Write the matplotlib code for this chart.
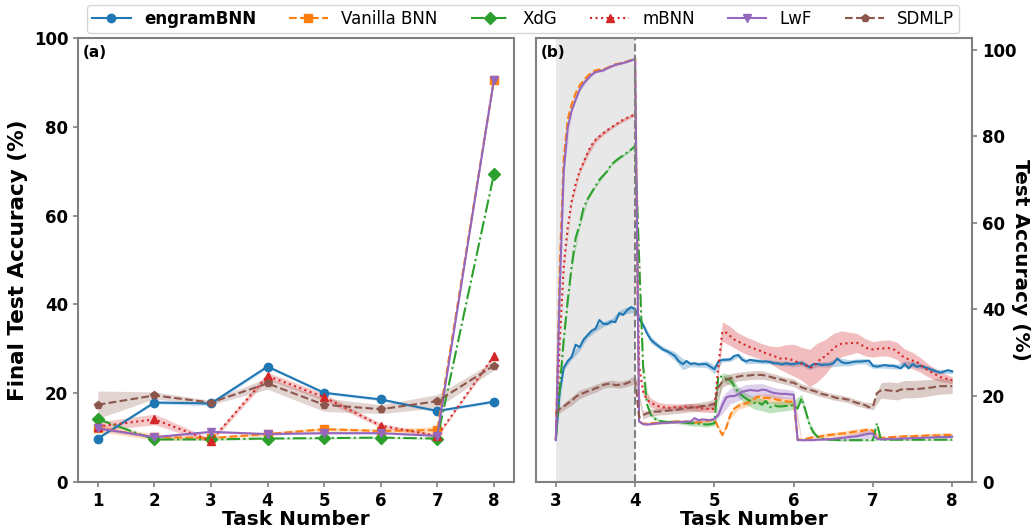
import numpy as np
import matplotlib
matplotlib.use("Agg")
import matplotlib.pyplot as plt

# ---------------- Panel (a) data ----------------
tasks = [1, 2, 3, 4, 5, 6, 7, 8]
engram_final = [9.8, 17.9, 17.7, 26.0, 20.1, 18.6, 16.0, 18.1]
vanilla_final = [12.2, 10.1, 9.9, 10.8, 11.9, 11.5, 11.7, 90.5]
xdg_final = [14.2, 9.6, 9.6, 9.8, 9.9, 10.0, 9.8, 69.3]
mbnn_final = [12.5, 14.1, 9.3, 23.9, 19.1, 12.7, 10.4, 28.4]
lwf_final = [12.1, 10.1, 11.3, 10.8, 11.0, 11.0, 10.4, 90.5]
sdmlp_final = [17.4, 19.5, 17.9, 22.2, 17.4, 16.4, 18.2, 26.2]

engram_final_std = [0.3, 0.3, 0.5, 0.3, 0.3, 0.3, 0.3, 0.3]
vanilla_final_std = [0.8, 0.7, 0.3, 0.4, 0.4, 0.4, 0.8, 0.3]
xdg_final_std = [0.3, 0.2, 0.2, 0.2, 0.2, 0.2, 0.2, 0.3]
mbnn_final_std = [1.0, 1.2, 0.5, 0.8, 0.8, 0.5, 0.3, 0.5]
lwf_final_std = [0.4, 0.3, 0.3, 0.2, 0.2, 0.2, 0.2, 0.3]
sdmlp_final_std = [3.1, 0.8, 0.5, 1.3, 1.5, 1.0, 1.5, 1.0]

# ---------------- Panel (b) data (task 3 accuracy over training, step 0.05) ----------------
t_b = np.linspace(3, 8, 101)

engram_t3 = [
    10.0, 21.0, 26.5, 28.0, 29.0, 31.8, 31.2, 33.0, 34.0, 35.0, 35.5, 37.5, 36.6, 36.6, 37.2, 37.0, 39.1, 38.7, 39.8, 40.5, 40.0,
    37.8, 36.4, 34.4, 32.9, 32.1, 31.4, 30.7, 30.3, 29.8, 29.2, 28.0, 27.3, 28.0, 27.3, 27.5, 27.2, 27.3, 27.3, 26.7, 26.1,
    27.9, 28.3, 28.3, 28.4, 29.2, 29.4, 28.3, 27.9, 28.3, 28.1, 28.0, 27.9, 27.9, 27.8, 27.5, 27.5, 27.2, 27.5, 27.3, 27.3,
    27.5, 27.6, 27.1, 26.6, 27.3, 27.3, 27.1, 27.2, 27.2, 27.5, 28.6, 27.8, 27.5, 27.6, 27.8, 27.9, 27.9, 28.0, 28.1, 26.9,
    26.7, 26.9, 27.1, 26.9, 26.9, 26.7, 26.3, 27.3, 26.3, 27.3, 26.7, 26.9, 26.6, 26.3, 25.9, 25.6, 25.3, 25.6, 25.9, 25.6]

vanilla_t3 = [
    10.0, 50.0, 75.0, 84.0, 87.5, 90.0, 91.8, 93.0, 94.0, 94.8, 95.3, 95.5, 95.6, 95.9, 96.3, 96.7, 96.9, 97.1, 97.4, 97.7, 98.1,
    14.0, 13.5, 13.5, 13.6, 13.7, 13.7, 13.8, 13.8, 13.9, 14.0, 14.0, 14.0, 14.0, 13.9, 13.8, 13.8, 13.9, 14.1, 14.3, 14.6,
    12.5, 10.9, 12.6, 15.5, 17.0, 17.6, 18.0, 18.2, 18.7, 19.2, 19.8, 19.4, 19.5, 19.4, 19.3, 19.0, 18.9, 18.7, 18.6, 18.6,
    9.8, 9.8, 10.0, 10.2, 10.4, 10.5, 10.6, 10.8, 10.9, 11.0, 11.1, 11.2, 11.3, 11.4, 11.6, 11.7, 11.8, 12.0, 12.2, 11.9,
    10.2, 10.2, 10.3, 10.4, 10.4, 10.5, 10.5, 10.6, 10.6, 10.6, 10.7, 10.7, 10.7, 10.8, 10.8, 10.8, 10.8, 10.9, 10.9, 10.9]

xdg_t3 = [
    9.8, 22.0, 33.0, 42.0, 50.0, 56.5, 59.5, 63.5, 65.5, 67.0, 68.5, 70.0, 71.0, 72.0, 73.5, 74.3, 75.0, 75.6, 76.3, 77.0, 77.8,
    52.0, 27.0, 18.0, 15.5, 14.6, 14.2, 14.0, 13.9, 13.9, 14.0, 13.9, 13.8, 13.7, 13.6, 13.6, 13.5, 13.4, 13.3, 13.4, 13.6,
    24.6, 24.3, 23.9, 23.6, 22.3, 20.8, 20.0, 19.3, 18.8, 18.3, 18.5, 17.9, 18.8, 17.3, 17.8, 17.5, 17.5, 17.6, 17.7, 17.8,
    17.0, 19.4, 16.5, 13.2, 11.4, 10.5, 10.1, 9.9, 9.8, 9.8, 9.7, 9.7, 9.7, 9.7, 9.7, 9.7, 9.7, 9.7, 9.7, 9.7,
    13.6, 9.9, 9.8, 9.8, 9.8, 9.8, 9.8, 9.8, 9.8, 9.8, 9.8, 9.8, 9.8, 9.8, 9.8, 9.8, 9.8, 9.8, 9.8, 9.8]

mbnn_t3 = [
    10.0, 33.0, 50.0, 59.0, 65.0, 69.0, 72.0, 74.0, 76.2, 78.0, 79.2, 80.0, 80.8, 81.5, 82.1, 82.7, 83.3, 83.9, 84.3, 84.7, 85.2,
    27.0, 21.0, 19.0, 18.3, 17.9, 17.5, 17.3, 17.3, 17.1, 17.3, 17.2, 17.3, 17.5, 17.4, 17.3, 17.2, 17.1, 17.0, 16.8, 17.0,
    27.0, 34.8, 34.6, 33.8, 33.0, 32.5, 32.1, 31.6, 31.2, 30.9, 30.6, 30.2, 29.8, 29.5, 29.2, 28.8, 28.5, 28.6, 28.4, 28.2,
    27.7, 27.4, 27.1, 26.4, 26.8, 27.7, 28.8, 29.0, 30.0, 30.9, 31.6, 32.0, 32.1, 32.1, 32.2, 32.2, 31.8, 31.2, 30.8, 30.7,
    30.8, 31.0, 30.9, 31.0, 30.8, 30.4, 29.4, 28.8, 28.4, 28.1, 27.9, 27.1, 26.4, 25.8, 25.3, 24.8, 24.3, 24.1, 23.8, 23.6]

lwf_t3 = [
    9.7, 45.0, 72.0, 82.0, 86.0, 88.5, 90.8, 92.3, 93.3, 94.3, 94.9, 95.1, 95.3, 95.8, 96.2, 96.6, 96.8, 97.0, 97.3, 97.6, 98.0,
    14.0, 13.4, 13.3, 13.4, 13.5, 13.6, 13.7, 13.7, 13.8, 13.8, 13.9, 13.9, 14.0, 14.0, 14.8, 14.3, 14.5, 14.4, 14.3, 14.6,
    15.5, 17.8, 19.6, 19.9, 19.9, 20.3, 20.9, 21.1, 21.3, 21.2, 21.1, 21.4, 21.3, 20.9, 20.6, 20.5, 20.4, 20.4, 20.3, 20.2,
    9.7, 9.7, 9.7, 9.7, 9.7, 9.8, 9.8, 9.9, 9.9, 10.0, 10.1, 10.2, 10.3, 10.4, 10.5, 10.6, 10.8, 11.0, 11.2, 11.2,
    10.0, 9.9, 9.9, 10.0, 10.0, 10.0, 10.1, 10.1, 10.1, 10.2, 10.2, 10.2, 10.3, 10.3, 10.3, 10.4, 10.4, 10.4, 10.4, 10.5]

sdmlp_t3 = [
    15.8, 17.0, 17.5, 18.2, 18.8, 19.7, 20.3, 20.6, 21.0, 21.3, 21.7, 22.0, 22.5, 22.7, 22.8, 22.4, 22.5, 22.6, 22.9, 23.3, 23.7,
    15.0, 15.5, 15.9, 16.1, 16.3, 16.3, 16.4, 16.5, 16.6, 16.7, 16.8, 17.0, 17.1, 17.2, 17.3, 17.4, 17.6, 17.7, 17.9, 18.1,
    22.0, 23.2, 23.7, 24.0, 24.3, 24.4, 24.6, 24.6, 24.7, 24.8, 24.8, 24.8, 24.6, 24.4, 24.1, 23.9, 23.7, 23.4, 23.1, 23.0,
    22.5, 21.9, 21.6, 21.4, 21.1, 20.8, 20.4, 20.2, 20.0, 19.7, 19.4, 19.4, 19.2, 19.0, 18.6, 18.3, 18.1, 17.8, 17.3, 17.5,
    20.6, 21.2, 21.3, 21.2, 21.1, 21.0, 21.4, 21.5, 21.5, 21.5, 21.5, 21.6, 21.7, 21.8, 21.9, 22.1, 22.2, 22.2, 22.2, 22.2]

# std bands on a 0.1 grid (every second point of t_b)
engram_t3_std = [0.3, 0.6, 0.6, 0.8, 0.6, 0.7, 0.6, 0.6, 0.6, 0.8, 0.7,
                 0.5, 0.8, 0.6, 0.6, 1.0, 1.3, 0.6, 0.6, 0.8, 1.0,
                 0.5, 0.5, 0.5, 0.6, 0.6, 0.5, 0.5, 0.5, 0.6, 0.6,
                 0.7, 0.6, 0.6, 0.6, 0.8, 0.9, 0.7, 0.6, 0.6, 0.6,
                 0.5, 0.6, 0.6, 0.7, 0.7, 0.6, 0.5, 0.5, 0.5, 0.5]
vanilla_t3_std = [0.3, 0.4, 0.3, 0.3, 0.2, 0.2, 0.2, 0.2, 0.2, 0.2, 0.2,
                  0.3, 0.3, 0.3, 0.3, 0.3, 0.3, 0.3, 0.3, 0.3, 0.4,
                  0.5, 0.8, 0.8, 0.8, 0.9, 1.0, 1.0, 1.0, 0.9, 0.9,
                  0.3, 0.4, 0.4, 0.5, 0.5, 0.5, 0.6, 0.6, 0.6, 0.5,
                  0.3, 0.3, 0.4, 0.4, 0.4, 0.4, 0.5, 0.5, 0.5, 0.5]
xdg_t3_std = [0.3, 0.5, 0.6, 0.5, 0.4, 0.3, 0.3, 0.3, 0.3, 0.3, 0.3,
              0.4, 0.4, 0.4, 0.4, 0.4, 0.5, 0.6, 0.6, 0.6, 0.6,
              1.0, 1.2, 1.2, 1.3, 1.4, 1.4, 1.3, 1.2, 1.1, 1.0,
              1.0, 0.8, 0.3, 0.2, 0.2, 0.2, 0.2, 0.2, 0.2, 0.2,
              0.2, 0.2, 0.2, 0.2, 0.2, 0.2, 0.2, 0.2, 0.2, 0.2]
mbnn_t3_std = [0.3, 0.5, 0.5, 0.6, 0.8, 0.6, 0.5, 0.4, 0.4, 0.4, 0.4,
               1.0, 1.0, 0.9, 0.8, 0.8, 0.8, 0.8, 0.9, 0.9, 0.9,
               2.3, 2.2, 2.0, 2.0, 1.9, 1.8, 2.0, 2.5, 3.2, 3.7,
               3.8, 4.3, 4.5, 4.0, 3.5, 3.0, 2.6, 2.2, 2.0, 1.8,
               1.8, 1.9, 2.0, 2.0, 1.9, 1.7, 1.5, 1.3, 1.0, 0.8]
lwf_t3_std = [0.3, 0.4, 0.3, 0.3, 0.3, 0.2, 0.2, 0.2, 0.2, 0.2, 0.2,
              0.2, 0.2, 0.2, 0.2, 0.2, 0.3, 0.3, 0.3, 0.3, 0.4,
              2.0, 1.8, 1.5, 1.5, 1.5, 1.4, 1.3, 1.2, 1.1, 1.0,
              0.2, 0.2, 0.2, 0.3, 0.4, 0.5, 0.6, 0.8, 1.0, 1.0,
              0.2, 0.2, 0.2, 0.2, 0.2, 0.2, 0.2, 0.3, 0.3, 0.3]
sdmlp_t3_std = [0.5, 0.8, 1.0, 1.0, 0.9, 0.9, 0.8, 0.8, 0.8, 0.8, 1.0,
                0.9, 0.8, 0.8, 0.9, 0.9, 1.0, 1.0, 1.0, 1.0, 1.1,
                1.3, 1.1, 1.0, 1.0, 1.0, 1.0, 0.9, 0.9, 0.8, 0.9,
                0.8, 0.8, 0.8, 0.7, 0.7, 0.7, 0.7, 0.7, 0.7, 0.8,
                1.8, 2.0, 2.0, 2.0, 2.0, 2.0, 1.9, 1.9, 1.8, 1.7]

labels = ["engramBNN", "Vanilla BNN", "XdG", "mBNN", "LwF", "SDMLP"]
colors = ["#1f77b4", "#ff7f0e", "#2ca02c", "#d62728", "#9467bd", "#8c564b"]
styles = ["-", "--", "-.", ":", "-", "--"]
markers = ["o", "s", "D", "^", "v", "p"]

finals = [engram_final, vanilla_final, xdg_final, mbnn_final, lwf_final, sdmlp_final]
finals_std = [engram_final_std, vanilla_final_std, xdg_final_std, mbnn_final_std, lwf_final_std, sdmlp_final_std]
curves = [engram_t3, vanilla_t3, xdg_t3, mbnn_t3, lwf_t3, sdmlp_t3]
curves_std = [engram_t3_std, vanilla_t3_std, xdg_t3_std, mbnn_t3_std, lwf_t3_std, sdmlp_t3_std]

fig = plt.figure(figsize=(10.34, 5.29), dpi=100)
ax1 = fig.add_axes([0.0754, 0.0888, 0.4214, 0.8394])
ax2 = fig.add_axes([0.5184, 0.0888, 0.4217, 0.8394])

spine_col = "#808080"
tick_fs = 12

handles = []
for lab, c, ls, mk, m, s in zip(labels, colors, styles, markers, finals, finals_std):
    m = np.array(m); s = np.array(s)
    ax1.fill_between(tasks, m - s, m + s, color=c, alpha=0.25, linewidth=0)
    h, = ax1.plot(tasks, m, linestyle=ls, marker=mk, color=c, lw=1.5, ms=6, label=lab)
    handles.append(h)

ax1.set_xlim(0.65, 8.35)
ax1.set_ylim(0, 100)
ax1.set_xticks(tasks)
ax1.set_yticks([0, 20, 40, 60, 80, 100])
ax1.set_xlabel("Task Number", fontsize=14.5, fontweight="bold", labelpad=0)
ax1.set_ylabel("Final Test Accuracy (%)", fontsize=15.5, fontweight="bold", labelpad=4)
ax1.text(0.01, 0.985, "(a)", transform=ax1.transAxes, ha="left", va="top",
         fontsize=11, fontweight="bold")

# Panel (b)
ax2.axvspan(3, 4, color="lightgray", alpha=0.5, linewidth=0)
tb2 = t_b[::2]
for lab, c, ls, m, s in zip(labels, colors, styles, curves, curves_std):
    m = np.array(m); s = np.array(s)
    mm = m[::2]
    ax2.fill_between(tb2, mm - s, mm + s, color=c, alpha=0.3, linewidth=0)
    ax2.plot(t_b, m, linestyle=ls, color=c, lw=1.5)
ax2.axvline(4, color="gray", linestyle="--", lw=1.5)

ax2.set_xlim(2.75, 8.25)
ax2.set_ylim(0, 102.8)
ax2.set_xticks([3, 4, 5, 6, 7, 8])
ax2.set_yticks([0, 20, 40, 60, 80, 100])
ax2.yaxis.tick_right()
ax2.set_xlabel("Task Number", fontsize=14.5, fontweight="bold", labelpad=0)
ax2.text(1.112, 0.5, "Test Accuracy (%)", transform=ax2.transAxes, rotation=270,
         ha="center", va="center", fontsize=14.5, fontweight="bold")
ax2.text(0.01, 0.985, "(b)", transform=ax2.transAxes, ha="left", va="top",
         fontsize=11, fontweight="bold")

for ax in (ax1, ax2):
    for sp in ax.spines.values():
        sp.set_color(spine_col)
        sp.set_linewidth(1.5)
    ax.tick_params(axis="both", colors=spine_col, labelcolor="black", labelsize=tick_fs, width=1.2)
    for lbl in ax.get_xticklabels() + ax.get_yticklabels():
        lbl.set_fontweight("bold")

leg = fig.legend(handles=handles, labels=labels, loc="upper center", ncol=6,
                 bbox_to_anchor=(0.506, 1.006), fontsize=12, frameon=True,
                 columnspacing=2.0, handlelength=2.3, borderpad=0.3)
leg.get_texts()[0].set_fontweight("bold")

fig.savefig("out.png", dpi=100)
